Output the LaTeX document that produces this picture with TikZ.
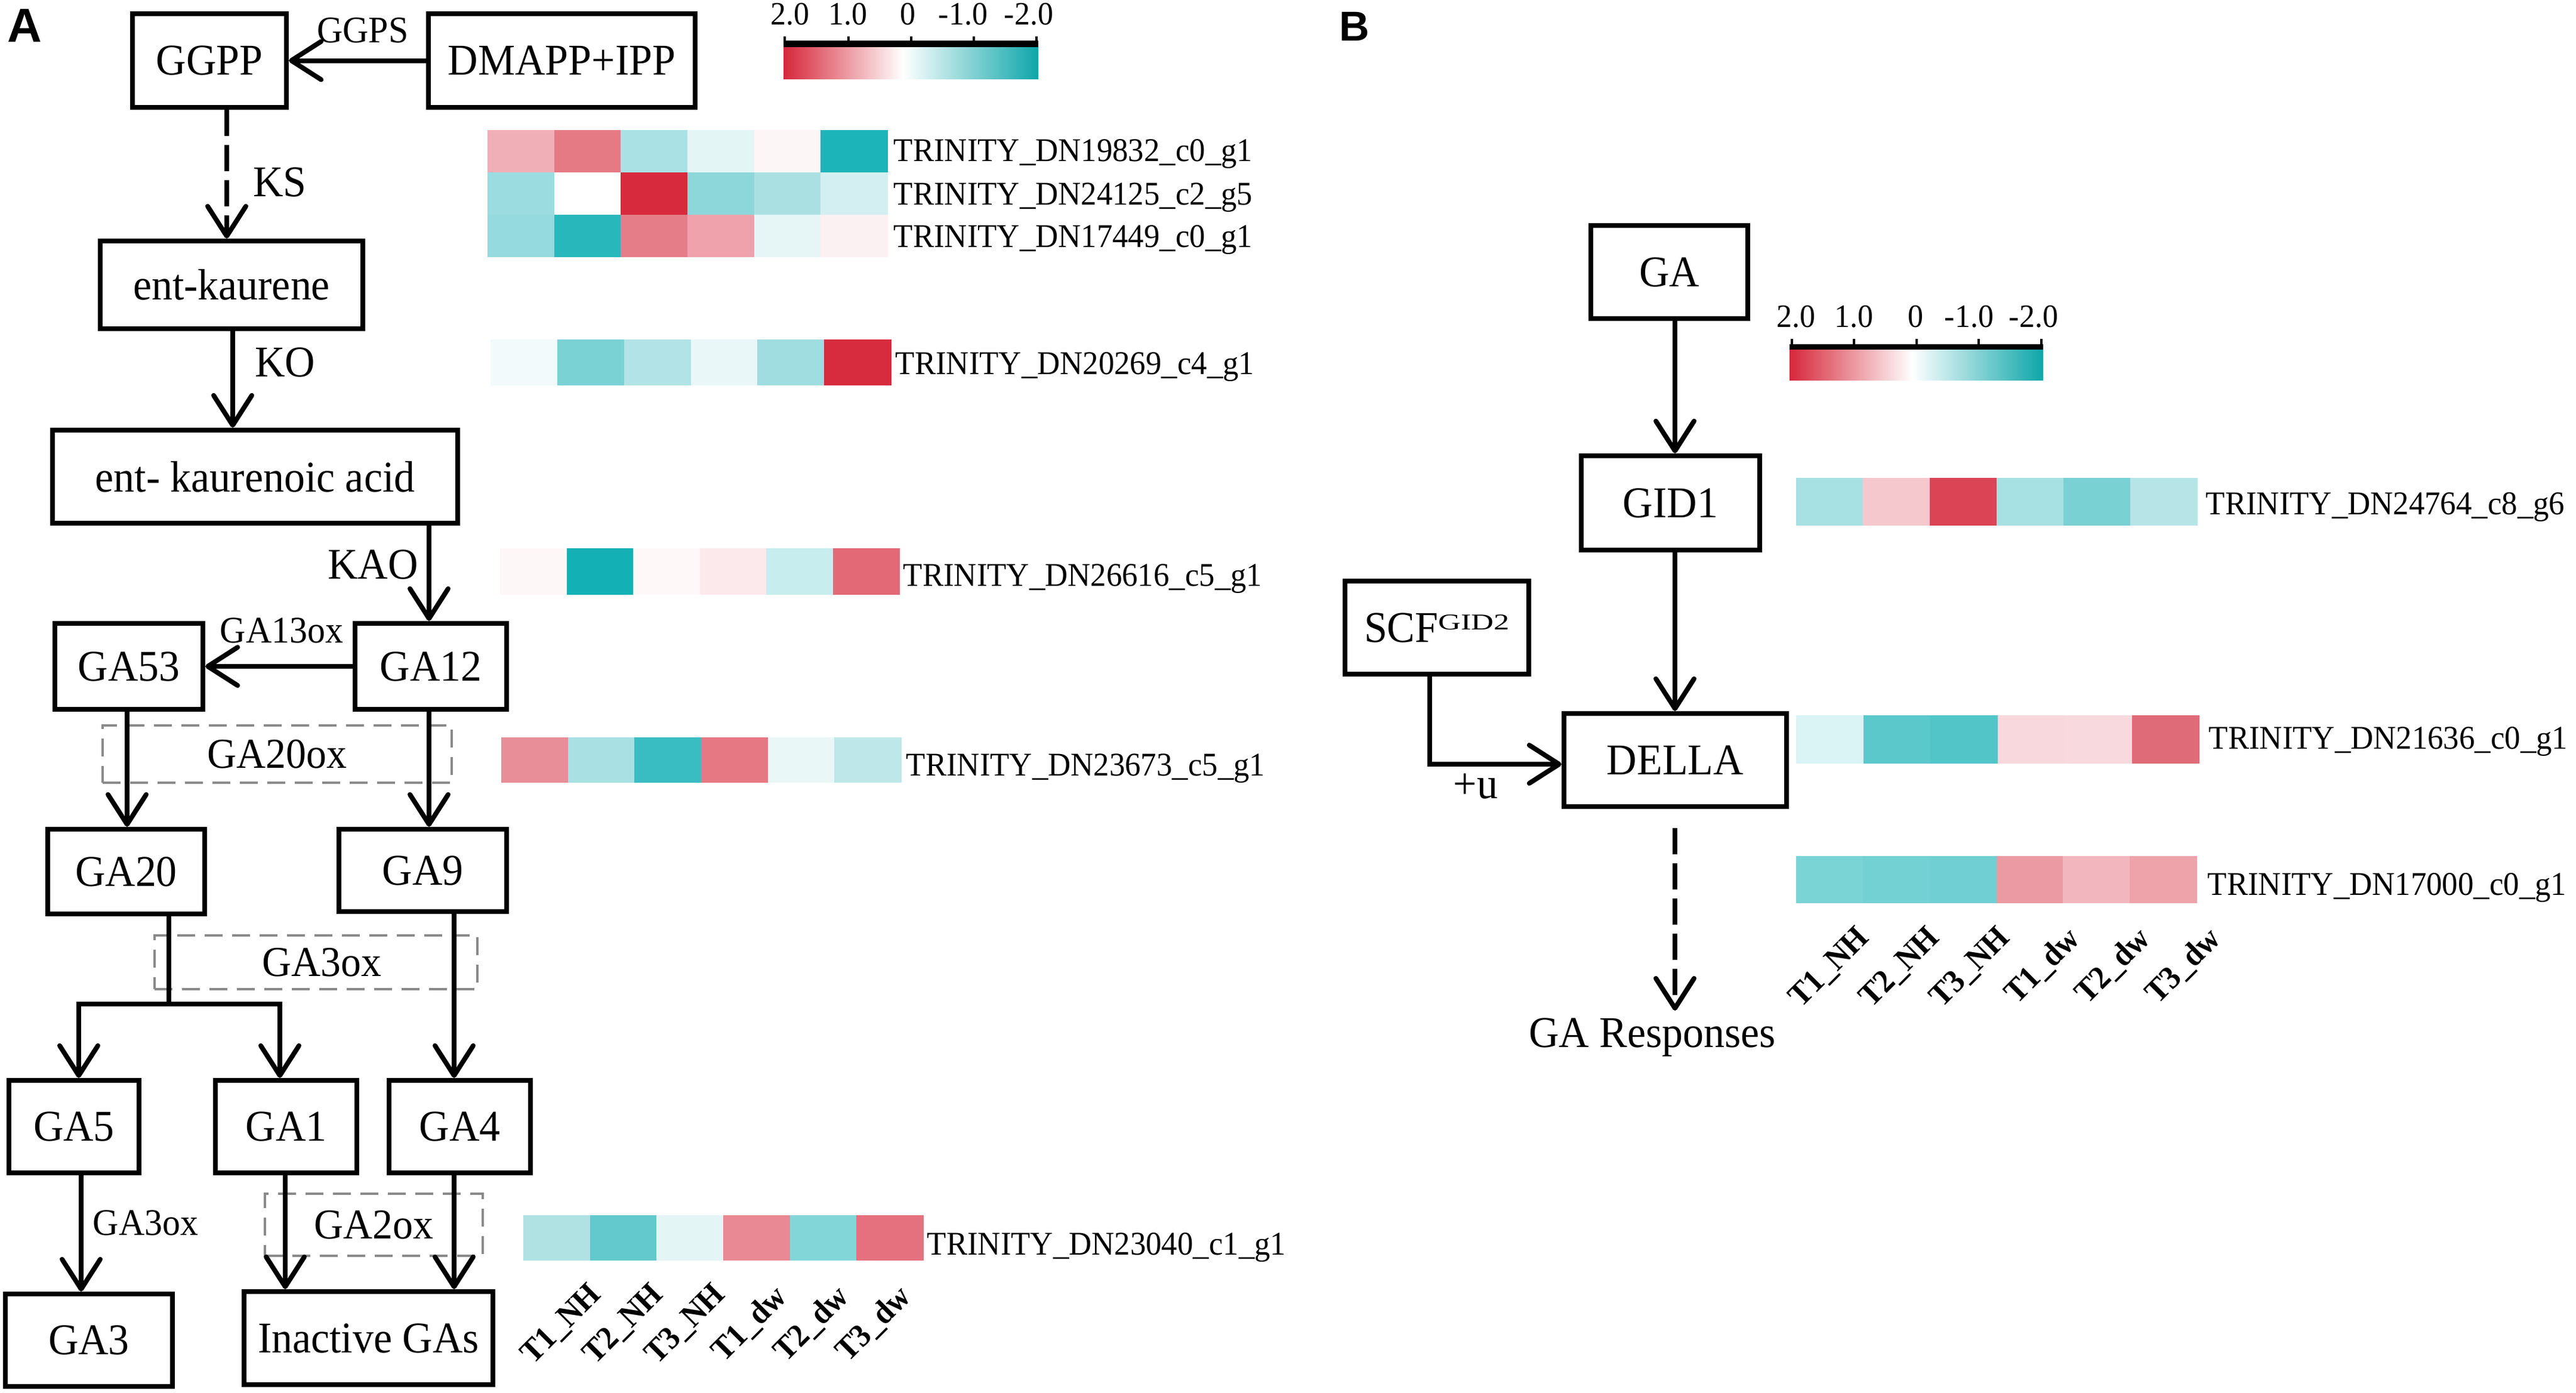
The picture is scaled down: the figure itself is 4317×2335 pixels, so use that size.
\documentclass[tikz,border=0pt]{standalone}
\usepackage{fontspec}
\setmainfont{Liberation Serif}[FakeStretch=0.95]
\newfontfamily\panelfont{Liberation Sans}
\usetikzlibrary{arrows.meta}
\definecolor{dgray}{HTML}{8A8A8A}
\definecolor{cbred}{HTML}{D6273A}
\definecolor{cbteal}{HTML}{0DA6A9}

\newcommand{\bx}[7]{%
  \pgfmathsetmacro{\mybw}{(#5-#3)*0.25}%
  \pgfmathsetmacro{\mybh}{(#6-#4)*0.25}%
  \pgfmathsetmacro{\mybx}{(#3+#5)/2}%
  \pgfmathsetmacro{\myby}{(#4+#6)/2}%
  \node[#1, minimum width=\mybw pt, minimum height=\mybh pt] (#2) at (\mybx,\myby) {#7};}

\newcommand{\hmrow}[5]{%
  \pgfmathsetmacro{\mycw}{(#3-#1)/6}%
  \foreach \cc [count=\ii from 0] in {#5}{%
    \edef\mytmp{\noexpand\definecolor{hmc}{HTML}{\cc}}\mytmp
    \fill[hmc] ({#1+\ii*\mycw},#2) rectangle ({#1+(\ii+1)*\mycw+0.6},#4);
  }}

\begin{document}
\begin{tikzpicture}[x=0.25pt,y=-0.25pt,
  box/.style={draw, line width=2.1pt, inner sep=0pt, font=\fontsize{18.4pt}{22pt}\selectfont},
  dbox/.style={draw=dgray, line width=1.2pt, dash pattern=on 7.5pt off 4pt, inner sep=0pt, font=\fontsize{17.85pt}{21pt}\selectfont},
  arr/.style={line width=2pt, -{Straight Barb[length=12.5pt,width=16pt,line width=2pt,round]}},
  darr/.style={arr, dash pattern=on 11pt off 3.75pt},
  plain/.style={line width=2pt},
  enzs/.style={inner sep=0pt, font=\fontsize{15.75pt}{19pt}\selectfont},
  enzl/.style={inner sep=0pt, font=\fontsize{18.4pt}{22pt}\selectfont},
  gene/.style={inner sep=0pt, anchor=base west, font=\fontsize{13.9pt}{17pt}\selectfont},
  cbl/.style={inner sep=0pt, anchor=base, font=\fontsize{13.65pt}{16pt}\selectfont},
  coll/.style={inner sep=0pt, anchor=base east, rotate=45, font=\fontsize{13.65pt}{16pt}\selectfont\bfseries},
  panel/.style={inner sep=0pt, anchor=base}
]
\fill[white] (0,0) rectangle (4317,2335);
\useasboundingbox (0,0) rectangle (4317,2335);

% ---------- Panel A ----------
\node[panel, font=\panelfont\bfseries\fontsize{20pt}{24pt}\selectfont] (pA) at (41,70) {A};

\bx{box}{GGPP}{222}{23}{480}{180}{GGPP}
\bx{box}{DMAPP}{718}{23}{1165}{180}{DMAPP+IPP}
\bx{box}{entk}{168}{404}{608}{551}{ent-kaurene}
\bx{box}{entka}{88}{721}{767}{877}{ent- kaurenoic acid}
\bx{box}{GA53}{92}{1045}{340}{1189}{GA53}
\bx{box}{GA12}{595}{1045}{849}{1189}{GA12}
\bx{box}{GA20}{80}{1390}{343}{1532}{GA20}
\bx{box}{GA9}{568}{1390}{849}{1528}{GA9}
\bx{box}{GA5}{15}{1811}{233}{1966}{GA5}
\bx{box}{GA1}{361}{1811}{598}{1966}{GA1}
\bx{box}{GA4}{652}{1811}{889}{1966}{GA4}
\bx{box}{GA3}{9}{2169}{289}{2324}{GA3}
\bx{box}{Inact}{409}{2165}{826}{2321}{Inactive GAs}

\bx{dbox}{ox20}{172}{1216}{757}{1312}{GA20ox}
\bx{dbox}{ox3a}{259}{1568}{800}{1658}{\hspace*{5pt}GA3ox}
\bx{dbox}{ox2}{444}{2001}{809}{2105}{GA2ox}

\node[enzs] (ggps) at (608,51) {GGPS};
\node[enzl] (ks) at (469,305) {KS};
\node[enzl] (ko) at (478,607) {KO};
\node[enzl] (kao) at (625,946) {KAO};
\node[enzs] (ga13ox) at (472,1057) {GA13ox};
\node[enzs] (ga3oxb) at (244,2050) {GA3ox};

\draw[arr] (DMAPP.west) -- (GGPP.east);
\draw[darr] (380,0 |- GGPP.south) -- (380,0 |- entk.north);
\draw[arr] (390,0 |- entk.south) -- (390,0 |- entka.north);
\draw[arr] (719,0 |- entka.south) -- (719,0 |- GA12.north);
\draw[arr] (GA12.west) -- (GA53.east);
\draw[arr] (213,0 |- GA53.south) -- (213,0 |- GA20.north);
\draw[arr] (719,0 |- GA12.south) -- (719,0 |- GA9.north);
\coordinate (br) at (283,1683);
\draw[plain] (283,0 |- GA20.south) -- (br);
\draw[arr] (br) -| (132,0 |- GA5.north);
\draw[arr] (br) -| (469,0 |- GA1.north);
\draw[arr] (761,0 |- GA9.south) -- (761,0 |- GA4.north);
\draw[arr] (136,0 |- GA5.south) -- (136,0 |- GA3.north);
\draw[arr] (478,0 |- GA1.south) -- (478,0 |- Inact.north);
\draw[arr] (761,0 |- GA4.south) -- (761,0 |- Inact.north);

% colour bar A
\shade[left color=cbred, right color=white] (1313,79) rectangle (1514,132);
\shade[left color=white, right color=cbteal] (1513,79) rectangle (1740,132);
\fill[black] (1313,68) rectangle (1740,79);
\foreach \tx in {1315,1422,1527,1632,1737}{\draw[line width=1pt] (\tx,61) -- (\tx,70);}
\node[cbl] (cbA1) at (1324,41) {2.0};
\node[cbl] (cbA2) at (1421,41) {1.0};
\node[cbl] (cbA3) at (1521,41) {0};
\node[cbl] (cbA4) at (1614,41) {-1.0};
\node[cbl] (cbA5) at (1724,41) {-2.0};

% heatmap rows A
\hmrow{817}{218}{1487}{289}{F0AFB6,E67A84,A9E1E4,E4F5F6,FDF6F7,1DB4B9}
\hmrow{817}{289}{1487}{360}{9BDCE0,FFFFFF,D72A3D,8DD6DA,ABE0E3,D3EFF1}
\hmrow{817}{360}{1487}{431}{95DADE,28B8BC,E57D88,EFA2AB,E6F6F7,FCF1F2}
\hmrow{822}{569}{1493}{646}{F2FAFB,7BD2D5,B2E3E6,EAF7F8,A0DDE0,D72B3E}
\hmrow{838}{919}{1507}{997}{FEF7F8,13B1B6,FEF8F9,FCE9EC,C8EDEE,E36977}
\hmrow{840}{1236}{1510}{1312}{E88E98,A8E0E3,3ABDC2,E67884,EAF7F7,BEE7E9}
\hmrow{877}{2037}{1547}{2113}{B0E2E4,63C9CD,E4F5F6,E98993,83D6D8,E5717E}

\node[gene] (gA1) at (1497,270) {TRINITY\_DN19832\_c0\_g1};
\node[gene] (gA2) at (1497,343) {TRINITY\_DN24125\_c2\_g5};
\node[gene] (gA3) at (1497,414) {TRINITY\_DN17449\_c0\_g1};
\node[gene] (gA4) at (1500,627) {TRINITY\_DN20269\_c4\_g1};
\node[gene] (gA5) at (1513,982) {TRINITY\_DN26616\_c5\_g1};
\node[gene] (gA6) at (1518,1300) {TRINITY\_DN23673\_c5\_g1};
\node[gene] (gA7) at (1553,2103) {TRINITY\_DN23040\_c1\_g1};

\node[coll] (cA1) at (1010,2172) {T1\_NH};
\node[coll] (cA2) at (1114,2172) {T2\_NH};
\node[coll] (cA3) at (1218,2172) {T3\_NH};
\node[coll] (cA4) at (1322,2176) {T1\_dw};
\node[coll] (cA5) at (1426,2176) {T2\_dw};
\node[coll] (cA6) at (1530,2176) {T3\_dw};

% ---------- Panel B ----------
\node[panel, font=\panelfont\bfseries\fontsize{17.5pt}{21pt}\selectfont] (pB) at (2270,68) {B};

\bx{box}{GA}{2666}{378}{2929}{534}{GA}
\bx{box}{GID1}{2650}{764}{2949}{922}{GID1}
\bx{box}{SCF}{2254}{974}{2562}{1130}{SCF\raisebox{5.25pt}{\scalebox{1.2}[0.82]{\fontsize{11.5pt}{12pt}\selectfont GID2}}}
\bx{box}{DELLA}{2621}{1196}{2994}{1352}{DELLA}
\node[enzl, anchor=north] (resp) at (2769,1706) {GA Responses};
\node[enzl, anchor=base] (plusu) at (2473,1338) {+u};

\draw[arr] (2807,0 |- GA.south) -- (2807,0 |- GID1.north);
\draw[arr] (2807,0 |- GID1.south) -- (2807,0 |- DELLA.north);
\coordinate (cr) at (2396,1281);
\draw[arr] (2396,0 |- SCF.south) -- (cr) -- (cr -| DELLA.west);
\draw[darr, shorten <=8pt, shorten >=3pt] (2807,0 |- DELLA.south) -- (2807,0 |- resp.north);

% colour bar B
\shade[left color=cbred, right color=white] (2999,586) rectangle (3205,637);
\shade[left color=white, right color=cbteal] (3204,586) rectangle (3424,637);
\fill[black] (2999,577) rectangle (3424,586);
\foreach \tx in {3003,3107,3212,3316,3421}{\draw[line width=1pt] (\tx,568) -- (\tx,578);}
\node[cbl] (cbB1) at (3010,548) {2.0};
\node[cbl] (cbB2) at (3107,548) {1.0};
\node[cbl] (cbB3) at (3210,548) {0};
\node[cbl] (cbB4) at (3300,548) {-1.0};
\node[cbl] (cbB5) at (3408,548) {-2.0};

\hmrow{3010}{801}{3682}{881}{A8E1E3,F5C8CE,DA4455,A8E1E3,79D1D4,B7E5E7}
\hmrow{3010}{1199}{3685}{1280}{DAF3F4,5BC8CC,52C5C9,F8D8DD,F8D9DE,E06B78}
\hmrow{3010}{1435}{3681}{1514}{7AD3D5,73D1D3,70CFD2,EB99A2,F2B7BE,EEA2AA}

\node[gene] (gB1) at (3696,862) {TRINITY\_DN24764\_c8\_g6};
\node[gene] (gB2) at (3701,1255) {TRINITY\_DN21636\_c0\_g1};
\node[gene] (gB3) at (3699,1500) {TRINITY\_DN17000\_c0\_g1};

\node[coll] (cB1) at (3135,1574) {T1\_NH};
\node[coll] (cB2) at (3253,1574) {T2\_NH};
\node[coll] (cB3) at (3371,1574) {T3\_NH};
\node[coll] (cB4) at (3489,1576) {T1\_dw};
\node[coll] (cB5) at (3607,1576) {T2\_dw};
\node[coll] (cB6) at (3725,1576) {T3\_dw};
\end{tikzpicture}
\end{document}
